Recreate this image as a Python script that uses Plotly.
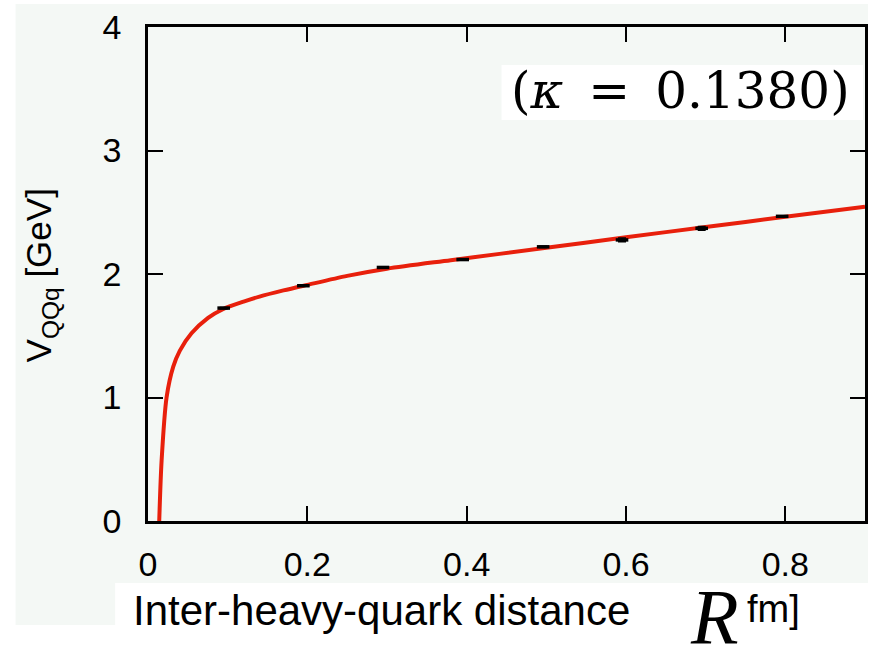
import plotly.graph_objects as go

# Static-source potential V_QQq(R): lattice points and fitted curve
r_data = [0.095, 0.195, 0.295, 0.395, 0.496, 0.595, 0.695, 0.796]
v_data = [1.724, 1.905, 2.053, 2.117, 2.220, 2.276, 2.370, 2.467]
v_err = [0.005, 0.005, 0.005, 0.005, 0.005, 0.015, 0.015, 0.005]

r_fit = [0.0141, 0.0171, 0.0233, 0.0317, 0.040, 0.0546, 0.0754, 0.094,
         0.12, 0.14, 0.17, 0.20, 0.25, 0.30, 0.38, 0.50, 0.60, 0.70,
         0.80, 0.90]
v_fit = [0.00, 0.49, 1.00, 1.25, 1.38, 1.52, 1.645, 1.715,
         1.776, 1.817, 1.867, 1.912, 1.985, 2.043, 2.112, 2.212, 2.298, 2.38,
         2.463, 2.545]

x_ticks = [0, 0.2, 0.4, 0.6, 0.8]
x_labels = ["0", "0.2", "0.4", "0.6", "0.8"]
y_ticks = [0, 1, 2, 3, 4]
y_labels = ["0", "1", "2", "3", "4"]

W, H = 871, 647
L, R, T, B = 148, 3, 27, 126
PW, PH = W - L - R, H - T - B


def px(x):
    return (x - L) / PW


def py(y):
    return (H - B - y) / PH


BG = "#f4f8f5"
SANS = "Liberation Sans, Arial, sans-serif"

fig = go.Figure()
fig.add_trace(go.Scatter(
    x=r_fit, y=v_fit, mode="lines",
    line=dict(color="#e8200c", width=4, shape="spline", smoothing=0.8),
    hoverinfo="skip", showlegend=False,
))
fig.add_trace(go.Scatter(
    x=r_data, y=v_data, mode="markers",
    marker=dict(symbol="line-ew", size=9, color="black",
                line=dict(color="black", width=3.5)),
    error_y=dict(type="data", array=v_err, color="black",
                 thickness=1.5, width=4),
    showlegend=False,
))

axis_common = dict(
    showgrid=False, zeroline=False,
    showline=True, linecolor="black", linewidth=2.5,
    mirror="ticks", ticks="inside", ticklen=15, tickwidth=2,
    tickcolor="black",
    tickfont=dict(family=SANS, size=34, color="black"),
)

fig.update_xaxes(range=[0, 0.9], tickvals=x_ticks, ticktext=x_labels,
                 ticklabelstandoff=11, **axis_common)
fig.update_yaxes(range=[0, 4], tickvals=y_ticks, ticktext=y_labels,
                 ticklabelstandoff=17, **axis_common)

shapes = [
    # light backdrop of the graph panel
    dict(type="rect", xref="paper", yref="paper", layer="below",
         x0=px(15), x1=px(871), y0=py(625), y1=py(4),
         fillcolor=BG, line=dict(width=0)),
    # white band under the axis caption
    dict(type="rect", xref="paper", yref="paper", layer="below",
         x0=px(115), x1=px(871), y0=py(647), y1=py(583),
         fillcolor="white", line=dict(width=0)),
    # white box behind the hopping-parameter label
    dict(type="rect", xref="paper", yref="paper", layer="below",
         x0=px(503), x1=px(866), y0=py(120), y1=py(65),
         fillcolor="white", line=dict(width=0)),
]

annotations = [
    dict(text="(<i>κ</i>\u2002=\u20020.1380)", x=px(683), y=py(91),
         xref="paper", yref="paper", showarrow=False,
         xanchor="center", yanchor="middle",
         font=dict(family="DejaVu Serif, serif", size=50, color="black")),
    dict(text="V<sub>QQq</sub> [GeV]", x=px(41), y=py(275),
         xref="paper", yref="paper", showarrow=False, textangle=-90,
         xanchor="center", yanchor="middle",
         font=dict(family=SANS, size=35, color="black")),
    dict(text="Inter-heavy-quark distance", x=px(131), y=py(610),
         xref="paper", yref="paper", showarrow=False,
         xanchor="left", yanchor="middle",
         font=dict(family=SANS, size=42, color="black")),
    dict(text="<i>R</i>", x=px(690), y=py(616),
         xref="paper", yref="paper", showarrow=False,
         xanchor="left", yanchor="middle",
         font=dict(family="Liberation Serif, serif", size=78, color="black")),
    dict(text="fm]", x=px(747), y=py(609),
         xref="paper", yref="paper", showarrow=False,
         xanchor="left", yanchor="middle",
         font=dict(family=SANS, size=38, color="black")),
]

fig.update_layout(
    width=W, height=H,
    margin=dict(l=L, r=R, t=T, b=B),
    paper_bgcolor="white", plot_bgcolor="rgba(0,0,0,0)",
    shapes=shapes, annotations=annotations,
    showlegend=False,
)

fig.write_html("out.html")
